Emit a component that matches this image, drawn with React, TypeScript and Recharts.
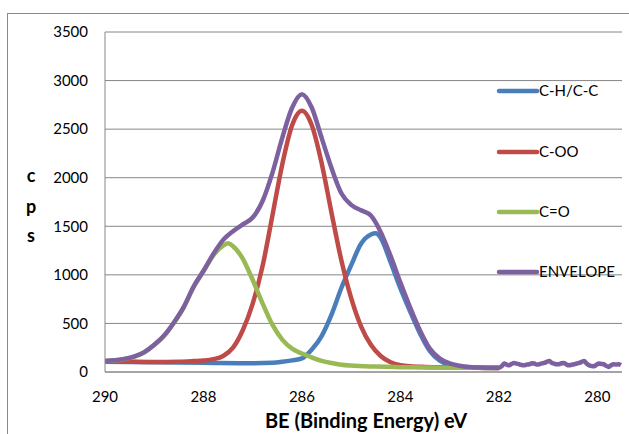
import React from 'react';
import { LineChart, Line, XAxis, YAxis, CartesianGrid } from 'recharts';

// Binding energy (eV) and counts per second for each fitted component
const chhBE = [290.0, 289.0, 288.0, 287.0, 286.6, 286.4, 286.2, 286.0, 285.8, 285.6, 285.4, 285.2, 285.0, 284.8, 284.6, 284.5, 284.4, 284.2, 284.0, 283.8, 283.6, 283.4, 283.2, 283.0, 282.8, 282.6, 282.4, 282.2, 282.0];
const chhCps = [105, 100, 95, 90, 95, 105, 120, 140, 232, 370, 590, 865, 1100, 1320, 1415, 1428, 1380, 1130, 860, 620, 395, 215, 118, 72, 56, 48, 44, 42, 42];

const cooBE = [290.0, 289.5, 289.0, 288.5, 288.2, 288.0, 287.8, 287.6, 287.4, 287.2, 287.0, 286.8, 286.6, 286.4, 286.2, 286.0, 285.8, 285.6, 285.4, 285.2, 285.0, 284.8, 284.6, 284.4, 284.2, 284.0, 283.8, 283.5, 283.0, 282.5, 282.0];
const cooCps = [110, 105, 102, 105, 112, 118, 132, 165, 250, 432, 704, 1090, 1610, 2137, 2540, 2690, 2540, 2150, 1640, 1150, 760, 470, 280, 165, 100, 70, 58, 52, 48, 45, 42];

const coBE = [290.0, 289.8, 289.6, 289.4, 289.2, 289.0, 288.8, 288.6, 288.4, 288.2, 288.0, 287.8, 287.6, 287.5, 287.4, 287.2, 287.0, 286.8, 286.6, 286.4, 286.2, 286.0, 285.8, 285.6, 285.4, 285.2, 285.0, 284.5, 284.0, 283.5, 283.0, 282.5, 282.0];
const coCps = [112, 119, 134, 158, 203, 277, 372, 506, 666, 874, 1036, 1200, 1300, 1325, 1295, 1165, 947, 707, 487, 334, 240, 190, 150, 115, 92, 75, 66, 56, 50, 47, 45, 43, 42];

const envBE = [290.0, 289.8, 289.6, 289.4, 289.2, 289.0, 288.8, 288.6, 288.4, 288.2, 288.0, 287.8, 287.6, 287.4, 287.2, 287.0, 286.8, 286.6, 286.4, 286.2, 286.0, 285.8, 285.6, 285.4, 285.2, 285.0, 284.8, 284.6, 284.4, 284.2, 284.0, 283.8, 283.6, 283.4, 283.2, 283.0, 282.8, 282.6, 282.4, 282.2, 282.0,
  281.94, 281.89, 281.84, 281.79, 281.74, 281.69, 281.64, 281.59, 281.54, 281.49, 281.43, 281.38, 281.33, 281.28, 281.23, 281.18, 281.13, 281.08, 281.03, 280.98, 280.93, 280.88, 280.83, 280.78, 280.73, 280.68, 280.63, 280.58, 280.52, 280.47, 280.42, 280.37, 280.32, 280.27, 280.22, 280.17, 280.12, 280.07, 280.02, 279.97, 279.92, 279.87, 279.82, 279.77, 279.72, 279.67, 279.62, 279.57, 279.52];
const envCps = [113, 120, 135, 160, 205, 280, 375, 510, 670, 880, 1042, 1215, 1360, 1450, 1520, 1590, 1760, 2050, 2410, 2720, 2860, 2720, 2410, 2100, 1840, 1720, 1665, 1610, 1440, 1195, 920, 660, 425, 238, 138, 88, 65, 52, 46, 45, 45,
  62, 87, 76, 69, 84, 93, 86, 80, 72, 69, 77, 80, 91, 87, 78, 80, 89, 93, 104, 113, 96, 87, 79, 80, 90, 93, 78, 69, 75, 80, 88, 93, 104, 113, 88, 69, 62, 58, 74, 87, 83, 80, 63, 52, 70, 80, 76, 80, 72];

const seriesNames = ['C-H/C-C', 'C-OO', 'C=O', 'ENVELOPE'];
const seriesColors = ['#4A7EBB', '#BE4B48', '#98B954', '#7D60A0'];
const xTicks = [290, 288, 286, 284, 282, 280];
const yTicks = [0, 500, 1000, 1500, 2000, 2500, 3000, 3500];

const toRows = (xs: number[], ys: number[]) => xs.map((x, i) => ({ x, y: ys[i] }));
const seriesData = [toRows(chhBE, chhCps), toRows(cooBE, cooCps), toRows(coBE, coCps), toRows(envBE, envCps)];

const FONT = "Lato, 'Open Sans', sans-serif";
const GRID = '#868686';

export default function App() {
  const legendY = [91, 152, 212, 272];
  return (
    <div style={{ position: 'absolute', left: 0, top: 0, width: 629, height: 434, overflow: 'hidden', background: '#fff' }}>
      <div style={{ position: 'absolute', left: 7, top: 13, width: 700, height: 500, border: '1px solid #8a8a8a' }} />
      <div style={{ position: 'absolute', left: 0, top: 0 }}>
        <LineChart width={629} height={434} margin={{ top: 32, right: 7, bottom: 0, left: 0 }}>
          <CartesianGrid vertical={false} stroke={GRID} strokeWidth={1} />
          <XAxis
            type="number"
            dataKey="x"
            domain={[279.5, 290]}
            reversed
            allowDataOverflow
            ticks={xTicks}
            height={62}
            tickSize={0}
            tickMargin={19}
            tickLine={false}
            axisLine={{ stroke: GRID }}
            tick={{ fill: '#000', fontSize: 15, fontFamily: FONT }}
          />
          <YAxis
            type="number"
            dataKey="y"
            domain={[0, 3500]}
            ticks={yTicks}
            width={105}
            tickSize={0}
            tickMargin={17}
            tickLine={false}
            axisLine={{ stroke: GRID }}
            tick={{ fill: '#000', fontSize: 15, fontFamily: FONT }}
          />
          {seriesData.map((d, i) => (
            <Line
              key={seriesNames[i]}
              data={d}
              dataKey="y"
              name={seriesNames[i]}
              type="monotone"
              stroke={seriesColors[i]}
              strokeWidth={4.5}
              strokeLinejoin="round"
              dot={false}
              activeDot={false}
              isAnimationActive={false}
            />
          ))}
        </LineChart>
      </div>
      <svg width={629} height={434} style={{ position: 'absolute', left: 0, top: 0, pointerEvents: 'none' }}>
        {seriesNames.map((n, i) => (
          <g key={n}>
            <line x1={499} x2={537} y1={legendY[i]} y2={legendY[i]} stroke={seriesColors[i]} strokeWidth={4.5} strokeLinecap="round" />
            <text x={539} y={legendY[i]} dy="0.36em" fontFamily={FONT} fontSize={15} fill="#000">{n}</text>
          </g>
        ))}
        <text x={31} y={181.5} textAnchor="middle" fontFamily={FONT} fontWeight="bold" fontSize={18} fill="#000">c</text>
        <text x={31} y={212.5} textAnchor="middle" fontFamily={FONT} fontWeight="bold" fontSize={18} fill="#000">p</text>
        <text x={31} y={241.5} textAnchor="middle" fontFamily={FONT} fontWeight="bold" fontSize={18} fill="#000">s</text>
        <text x={366} y={428} textAnchor="middle" fontFamily={FONT} fontWeight="bold" fontSize={20} fill="#000">BE (Binding Energy) eV</text>
      </svg>
    </div>
  );
}
